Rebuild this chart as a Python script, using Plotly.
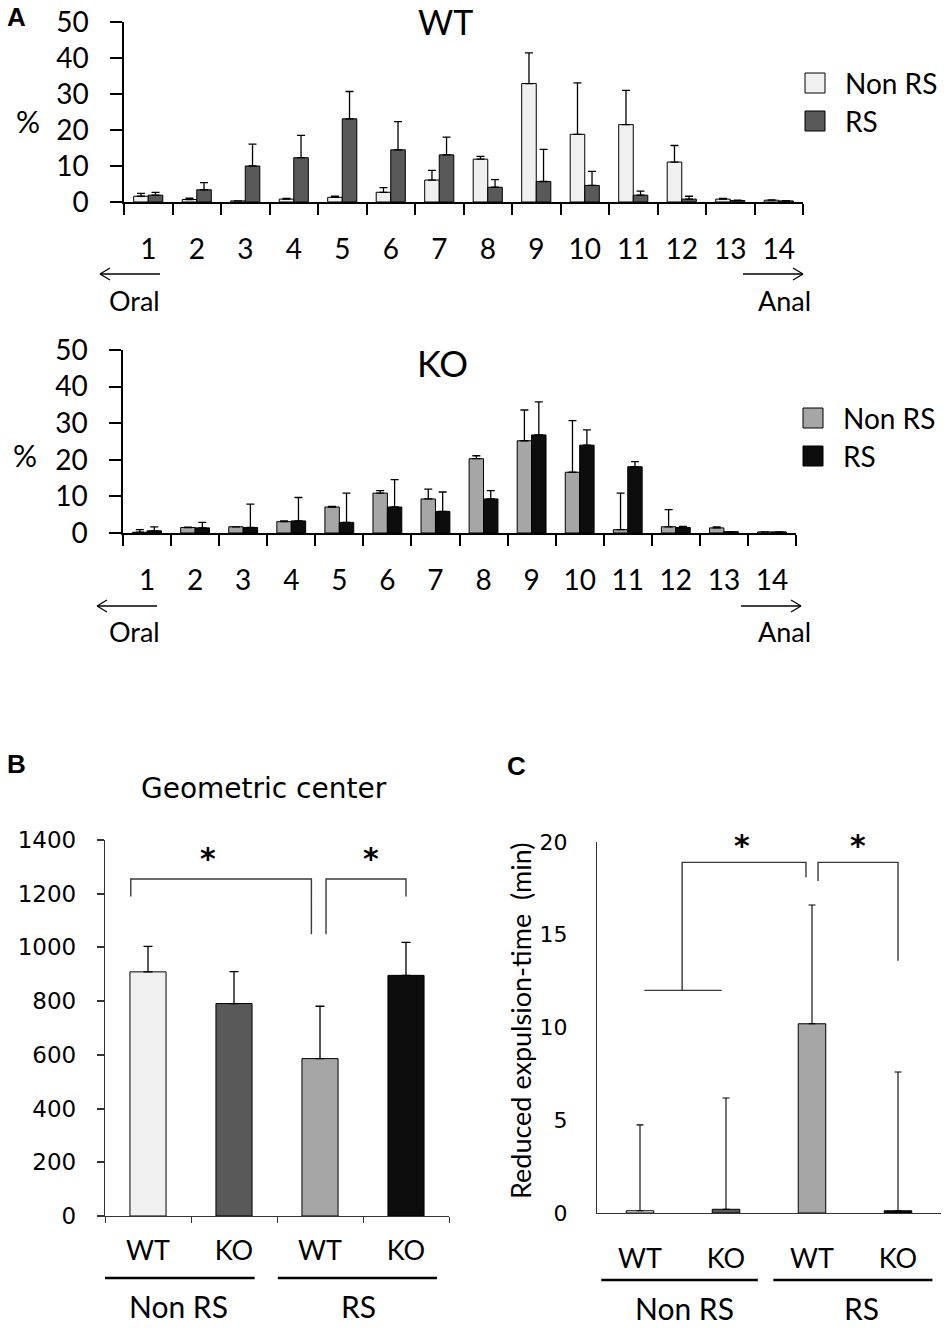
import plotly.graph_objects as go

# ---------------------------------------------------------------------------
# data
# ---------------------------------------------------------------------------
segments = [str(i) for i in range(1, 15)]

wt_nonrs = [1.6, 0.7, 0.3, 0.8, 1.3, 2.7, 6.1, 11.9, 32.9, 18.8, 21.5, 11.1, 0.8, 0.5]
wt_nonrs_sem = [0.8, 0.4, 0.0, 0.2, 0.3, 1.3, 2.7, 0.8, 8.5, 14.3, 9.5, 4.6, 0.2, 0.1]
wt_rs = [1.9, 3.4, 10.0, 12.3, 23.1, 14.5, 13.1, 4.1, 5.7, 4.6, 1.9, 0.8, 0.4, 0.3]
wt_rs_sem = [0.8, 2.0, 6.1, 6.2, 7.6, 7.8, 4.9, 2.1, 8.9, 3.9, 1.1, 0.8, 0.1, 0.1]

ko_nonrs = [0.2, 1.5, 1.7, 3.1, 7.1, 10.9, 9.3, 20.3, 25.2, 16.6, 0.9, 1.7, 1.4, 0.3]
ko_nonrs_sem = [0.7, 0.1, 0.0, 0.2, 0.2, 0.7, 2.7, 0.8, 8.4, 14.1, 10.0, 4.7, 0.3, 0.0]
ko_rs = [0.6, 1.4, 1.5, 3.3, 2.9, 7.1, 5.9, 9.3, 26.8, 24.0, 18.1, 1.5, 0.35, 0.3]
ko_rs_sem = [1.1, 1.5, 6.4, 6.4, 8.0, 7.5, 5.3, 2.3, 9.0, 4.2, 1.4, 0.3, 0.0, 0.0]

groups = ["Non RS", "Non RS", "RS", "RS"]
genotypes = ["WT", "KO", "WT", "KO"]
bc_colors = ["#f0f0f0", "#595959", "#a6a6a6", "#0d0d0d"]

gc_mean = [909, 791, 586, 896]
gc_sem = [95, 119, 195, 123]

exp_mean = [0.12, 0.2, 10.2, 0.12]
exp_sem = [4.63, 6.0, 6.4, 7.48]

# significance brackets (group index, value)
gc_br1_x = [-0.2, -0.2, 1.9, 1.9]
gc_br1_y = [1190, 1255, 1255, 1049]
gc_br2_x = [2.07, 2.07, 3.0, 3.0]
gc_br2_y = [1049, 1255, 1255, 1190]
exp_base_x = [0.05, 0.95]
exp_base_y = [12.0, 12.0]
exp_br1_x = [0.49, 0.49, 1.93, 1.93]
exp_br1_y = [12.0, 18.9, 18.9, 18.1]
exp_br2_x = [2.07, 2.07, 3.0, 3.0]
exp_br2_y = [17.9, 18.9, 18.9, 13.6]

W, H = 950, 1328
LATO = "Lato"
DV = "DejaVu Sans"
bc_pos = list(range(len(genotypes)))


def px(x):
    return x / W


def py(y):
    return 1 - y / H


fig = go.Figure()


def add_pair(vals1, sem1, c1, vals2, sem2, c2, xa, ya):
    for name, vals, sem, col in [("Non RS", vals1, sem1, c1), ("RS", vals2, sem2, c2)]:
        fig.add_trace(go.Bar(
            x=segments, y=vals, name=name, xaxis=xa, yaxis=ya, showlegend=False,
            marker=dict(color=col, line=dict(color="black", width=1)),
            error_y=dict(type="data", symmetric=False, array=sem, arrayminus=[0] * len(sem),
                         color="black", thickness=1.3, width=4),
        ))


add_pair(wt_nonrs, wt_nonrs_sem, "#f0f0f0", wt_rs, wt_rs_sem, "#595959", "x", "y")
add_pair(ko_nonrs, ko_nonrs_sem, "#a6a6a6", ko_rs, ko_rs_sem, "#0d0d0d", "x2", "y2")

# panel B
fig.add_trace(go.Bar(
    x=bc_pos, y=gc_mean, xaxis="x3", yaxis="y3", width=0.42, showlegend=False,
    marker=dict(color=bc_colors, line=dict(color="black", width=1)),
    error_y=dict(type="data", symmetric=False, array=gc_sem, arrayminus=[0] * 4,
                 color="black", thickness=1.3, width=4.5),
))
# panel C
fig.add_trace(go.Bar(
    x=bc_pos, y=exp_mean, xaxis="x4", yaxis="y4", width=0.32, showlegend=False,
    marker=dict(color=bc_colors, line=dict(color="black", width=1)),
    error_y=dict(type="data", symmetric=False, array=exp_sem, arrayminus=[0] * 4,
                 color="black", thickness=1.1, width=3.5),
))

for bx, by, xa, ya in [(gc_br1_x, gc_br1_y, "x3", "y3"), (gc_br2_x, gc_br2_y, "x3", "y3"),
                       (exp_base_x, exp_base_y, "x4", "y4"), (exp_br1_x, exp_br1_y, "x4", "y4"),
                       (exp_br2_x, exp_br2_y, "x4", "y4")]:
    fig.add_trace(go.Scatter(x=bx, y=by, xaxis=xa, yaxis=ya, mode="lines",
                             line=dict(color="#3a3a3a", width=1.4),
                             showlegend=False, hoverinfo="skip"))

# ---------------------------------------------------------------------------
# axes
# ---------------------------------------------------------------------------
line_k = dict(showline=True, linecolor="black", linewidth=1.5, showgrid=False,
              zeroline=False, tickcolor="black", tickwidth=1.5, automargin=False)

xa_a = dict(line_k, type="category", tickson="boundaries", ticks="outside", ticklen=11,
            tickfont=dict(family=LATO, size=28, color="black"), ticklabelstandoff=22)
ya_a = dict(line_k, range=[0, 50], tickvals=[0, 10, 20, 30, 40, 50], ticks="outside",
            ticklen=12, tickfont=dict(family=LATO, size=28, color="black"),
            ticklabelstandoff=16)

bounds = [p - 0.5 for p in bc_pos] + [bc_pos[-1] + 0.5]

fig.update_layout(
    xaxis=dict(xa_a, domain=[px(124), px(803)], anchor="y"),
    yaxis=dict(ya_a, domain=[py(202), py(22)], anchor="x"),
    xaxis2=dict(xa_a, domain=[px(123), px(796)], anchor="y2"),
    yaxis2=dict(ya_a, domain=[py(533), py(350)], anchor="x2"),
    xaxis3=dict(line_k, range=[-0.5, 3.5], ticks="", linecolor="#333", linewidth=1.3,
                tickvals=bc_pos, ticktext=genotypes,
                minor=dict(tickvals=bounds, ticks="outside", ticklen=6, tickcolor="#333",
                           tickwidth=1.3, showgrid=False),
                tickfont=dict(family=LATO, size=27, color="black"),
                ticklabelstandoff=10, domain=[px(105), px(449)], anchor="y3"),
    yaxis3=dict(line_k, range=[0, 1400], tickvals=list(range(0, 1401, 200)),
                ticks="outside", ticklen=7, linecolor="#333", linewidth=1.3, tickcolor="#333",
                tickfont=dict(family=DV, size=23, color="black"),
                ticklabelstandoff=16, domain=[py(1216), py(840)], anchor="x3"),
    xaxis4=dict(line_k, range=[-0.5, 3.5], ticks="", linecolor="#333", linewidth=1.3,
                tickvals=bc_pos, ticktext=genotypes,
                tickfont=dict(family=LATO, size=27, color="black"),
                ticklabelstandoff=21, domain=[px(597), px(941)], anchor="y4"),
    yaxis4=dict(line_k, range=[0, 20], tickvals=[0, 5, 10, 15, 20], ticks="",
                linecolor="#333", linewidth=1.3,
                tickfont=dict(family=DV, size=22, color="black"),
                ticklabelstandoff=24, domain=[py(1213), py(842)], anchor="x4"),
)

fig.update_layout(
    width=W, height=H, margin=dict(l=0, r=0, t=0, b=0, autoexpand=False),
    paper_bgcolor="white", plot_bgcolor="white",
    barmode="group", bargap=0.4, bargroupgap=0,
    showlegend=False,
)

# ---------------------------------------------------------------------------
# texts
# ---------------------------------------------------------------------------
ann = []


def text(x, y, s, size, family=LATO, bold=False, xanchor="center", angle=0, xref="paper", yref="paper"):
    if bold:
        s = "<b>" + s + "</b>"
    ann.append(dict(x=x, y=y, xref=xref, yref=yref, text=s, showarrow=False,
                    xanchor=xanchor, yanchor="middle", textangle=angle,
                    font=dict(family=family, size=size, color="black")))


text(px(5), py(17), "A", 26, family="Liberation Sans", bold=True, xanchor="left")
text(px(5), py(764), "B", 26, family="Liberation Sans", bold=True, xanchor="left")
text(px(505), py(766), "C", 26, family="Liberation Sans", bold=True, xanchor="left")

text(px(445), py(22), "WT", 34)
text(px(442), py(363), "KO", 36)
text(px(28), py(121), "%", 30)
text(px(25), py(455), "%", 30)

for ytxt in (300, 632):
    text(px(134), py(ytxt), "Oral", 27)
    text(px(784), py(ytxt), "Anal", 27)

text(px(264), py(788), "Geometric center", 28, family=DV)
text(px(520), py(1021), "Reduced expulsion-time\u00a0 (min)", 27, angle=-90)

# group names under panels B and C
text(0.35, py(1306), "Non RS", 30, xref="x3")
text(2.45, py(1306), "RS", 30, xref="x3")
text(0.52, py(1308), "Non RS", 30, xref="x4")
text(2.58, py(1308), "RS", 30, xref="x4")

# significance stars
for xv, yv, xr, yr in [(0.7, 1330, "x3", "y3"), (2.59, 1330, "x3", "y3"),
                       (1.19, 19.8, "x4", "y4"), (2.53, 19.8, "x4", "y4")]:
    ann.append(dict(x=xv, y=yv, xref=xr, yref=yr, text="<b>*</b>", showarrow=False,
                    font=dict(family=DV, size=30, color="black"), yanchor="middle"))

shapes = []

# legends (boxed swatches like the original)
for lx, ly, cols in [(805, 83, ["#f0f0f0", "#595959"]), (803, 418, ["#a6a6a6", "#0d0d0d"])]:
    for i, (name, col) in enumerate(zip(["Non RS", "RS"], cols)):
        yc = ly + i * 38
        shapes.append(dict(type="rect", xref="paper", yref="paper",
                           x0=px(lx), x1=px(lx + 20), y0=py(yc + 10), y1=py(yc - 10),
                           fillcolor=col, line=dict(color="black", width=1)))
        text(px(lx + 38), py(yc), name, 28, xanchor="left")

fig.update_layout(annotations=ann)


def arrow(x_tail, x_head, y):
    d = 1 if x_head > x_tail else -1
    shapes.append(dict(type="line", xref="paper", yref="paper", x0=px(x_tail), x1=px(x_head),
                       y0=py(y), y1=py(y), line=dict(color="black", width=1.3)))
    for dy in (-6, 6):
        shapes.append(dict(type="line", xref="paper", yref="paper", x0=px(x_head - d * 10),
                           x1=px(x_head), y0=py(y + dy), y1=py(y), line=dict(color="black", width=1.3)))


arrow(160, 100, 274)
arrow(743, 803, 274)
arrow(157, 97, 606)
arrow(741, 801, 606)

# group underlines for B and C
for x0, x1, xr, yv in [(-0.58, 1.24, "x3", 1278), (1.51, 3.36, "x3", 1278),
                       (-0.45, 1.37, "x4", 1280), (1.55, 3.40, "x4", 1280)]:
    shapes.append(dict(type="line", xref=xr, yref="paper", x0=x0, x1=x1,
                       y0=py(yv), y1=py(yv), line=dict(color="black", width=2.5)))

fig.update_layout(shapes=shapes)

# drop the default page margin so the figure fills the window exactly
fig.write_html("out.html", config={"displayModeBar": False},
               post_script="document.body.style.margin = '0px';")
